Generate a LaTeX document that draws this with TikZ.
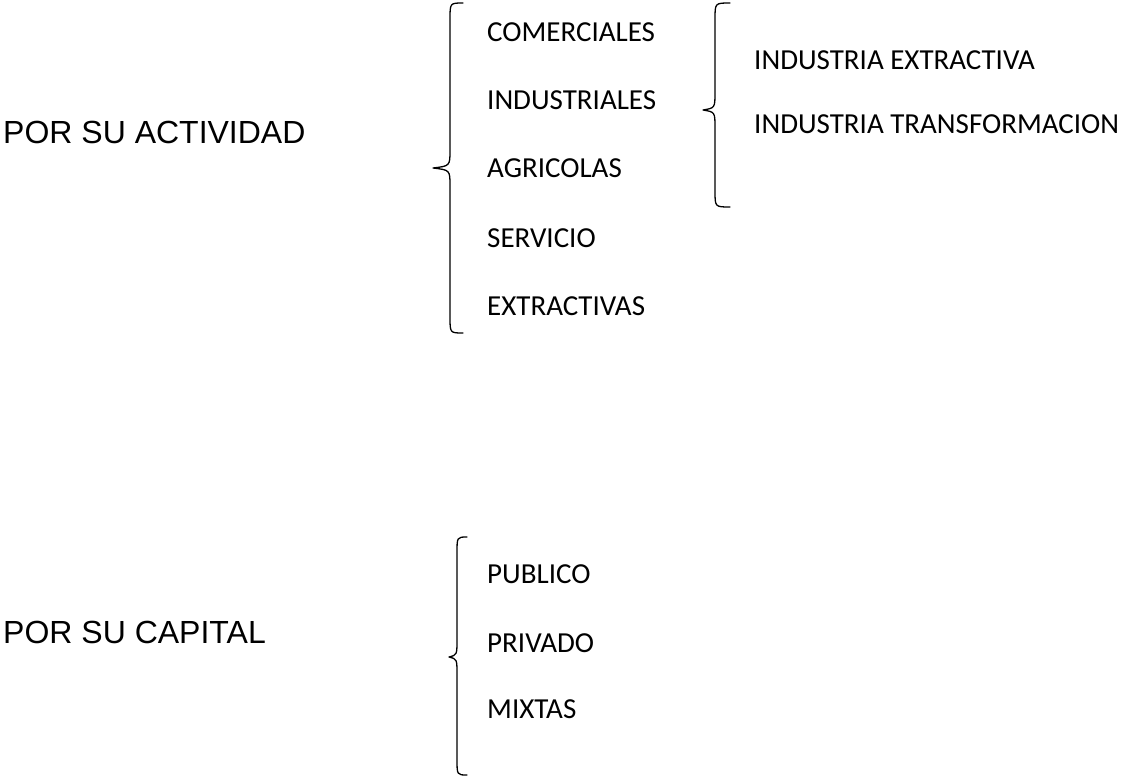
\documentclass[tikz,border=0pt]{standalone}
\usepackage{fontspec}
\setmainfont{Carlito}
\newfontfamily\arialf{Liberation Sans}
\begin{document}
\begin{tikzpicture}[x=1pt,y=-1pt,
  item/.style={anchor=base west,inner sep=0pt,font=\fontsize{29}{35}\selectfont},
  head/.style={anchor=base west,inner sep=0pt,font=\arialf\fontsize{32}{38}\selectfont},
  brace/.style={line width=1.3pt,line cap=round,line join=round}]
\useasboundingbox (0,0) rectangle (1121,781);
% braces: tip x, line x, mid x, top y, mid y, bottom y
\newcommand\mybrace[6]{%
  \draw[brace] (#1,#4) .. controls (#2,#4) .. (#2,#4+16) -- (#2,#5-18)
    .. controls (#2,#5-2) .. (#3,#5) .. controls (#2,#5+2) .. (#2,#5+18)
    -- (#2,#6-16) .. controls (#2,#6) .. (#1,#6);}
\mybrace{463}{450}{433}{3}{168}{333}
\mybrace{730}{715}{703}{3}{110}{207}
\mybrace{467}{457}{449}{537}{657}{775}
\node[head] (act) at (3,143) {POR SU ACTIVIDAD};
\node[head] (cap) at (3,643) {POR SU CAPITAL};
\node[item] (com) at (487,42) {COMERCIALES};
\node[item] (ind) at (487,110) {INDUSTRIALES};
\node[item] (agr) at (487,177) {AGRICOLAS};
\node[item] (ser) at (487,247) {SERVICIO};
\node[item] (ext) at (487,315) {EXTRACTIVAS};
\node[item] (iex) at (754,70) {INDUSTRIA EXTRACTIVA};
\node[item] (itr) at (754,133) {INDUSTRIA TRANSFORMACION};
\node[item] (pub) at (487,583) {PUBLICO};
\node[item] (pri) at (487,652) {PRIVADO};
\node[item] (mix) at (487,718) {MIXTAS};
\end{tikzpicture}
\end{document}
